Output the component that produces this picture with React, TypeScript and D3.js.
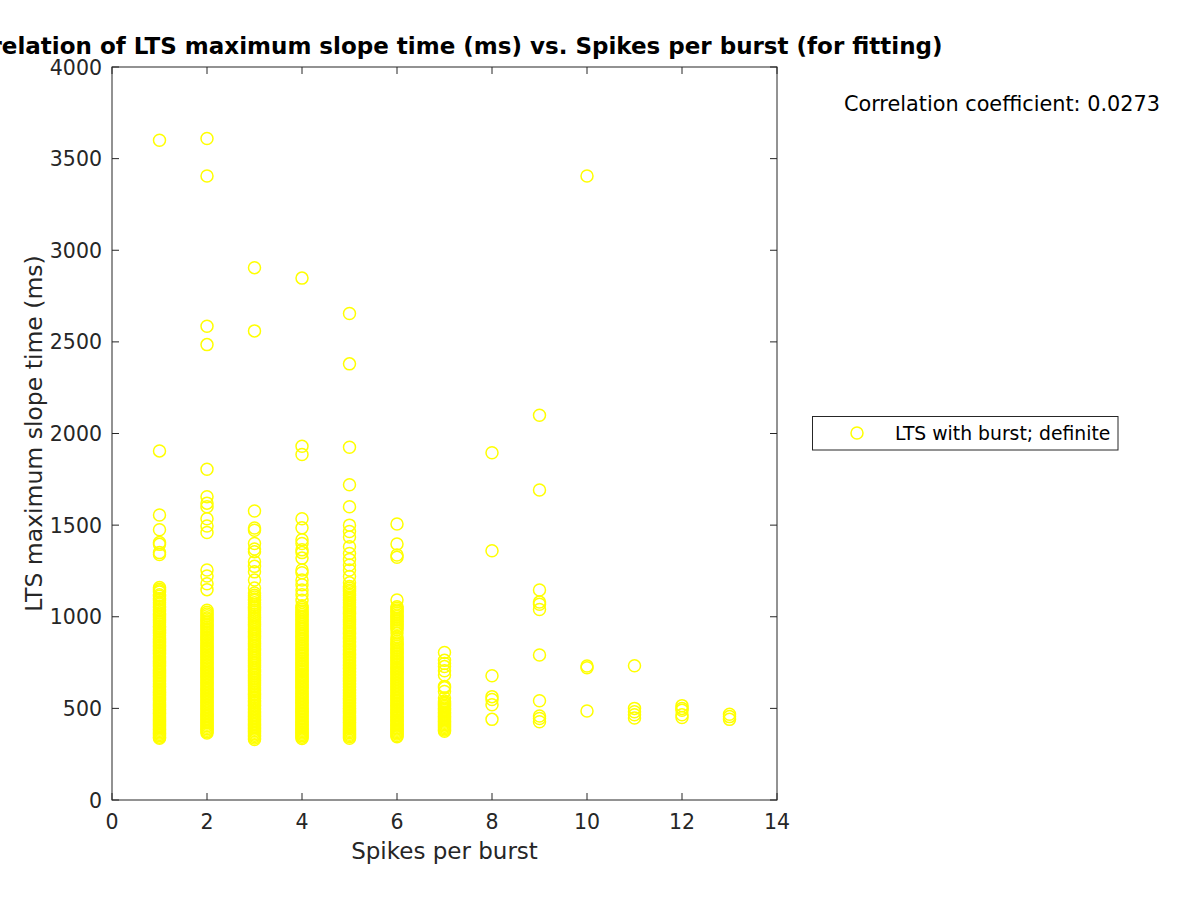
import React from "react";
import * as d3 from "d3";

const xTicks = [0, 2, 4, 6, 8, 10, 12, 14];
const yTicks = [0, 500, 1000, 1500, 2000, 2500, 3000, 3500, 4000];

const spikes1 = [3600, 1905, 1555, 1475, 1405, 1395, 1350, 1340,
  1160, 1150, 1142, 1135, 1120, 1112, 1100, 1090, 1078, 1070, 1058, 1050, 1040, 1032, 1020, 1012, 1003, 995, 985, 978, 968, 960, 950, 942, 933, 925, 915, 908, 898, 890, 880, 872, 863, 855, 845, 838, 828, 820, 812, 803, 795, 786, 778, 770, 760, 752, 745, 735, 728, 720, 711, 703, 695, 686, 678, 670, 662, 655, 646, 638, 630, 622, 615, 606, 598, 590, 583, 575, 566, 558, 550, 543, 535, 527, 520, 512, 505, 497, 490, 482, 475, 468, 460, 453, 445, 438, 430, 423, 416, 408, 401, 394, 387, 380, 372, 365, 358, 350, 343, 337];
const spikes2 = [3610, 3405, 2585, 2485, 1805, 1655, 1620, 1600, 1535, 1495, 1460, 1255, 1222, 1180, 1148,
  1035, 1025, 1015, 1005, 995, 988, 978, 970, 960, 952, 943, 935, 925, 917, 908, 900, 891, 882, 874, 866, 857, 849, 840, 832, 823, 815, 806, 798, 790, 781, 773, 764, 756, 748, 739, 731, 722, 714, 706, 697, 689, 680, 672, 664, 655, 647, 638, 630, 622, 613, 605, 597, 588, 580, 571, 563, 555, 546, 538, 530, 521, 513, 505, 496, 488, 480, 471, 463, 455, 446, 438, 430, 421, 413, 405, 397, 389, 381, 373, 366];
const spikes3 = [2905, 2560, 1577, 1484, 1472, 1400, 1370, 1355, 1300, 1275, 1245, 1200, 1157,
  1130, 1118, 1108, 1097, 1088, 1076, 1066, 1055, 1046, 1035, 1026, 1015, 1006, 996, 986, 977, 967, 958, 948, 939, 929, 920, 910, 901, 892, 882, 873, 864, 854, 845, 836, 826, 817, 808, 798, 789, 780, 771, 761, 752, 743, 734, 724, 715, 706, 697, 688, 679, 670, 661, 652, 643, 634, 625, 616, 607, 598, 589, 580, 572, 563, 554, 545, 537, 528, 519, 511, 502, 494, 485, 477, 468, 460, 451, 443, 435, 427, 418, 410, 402, 394, 386, 378, 370, 362, 354, 346, 338, 330];
const spikes4 = [2848, 1930, 1885, 1535, 1485, 1420, 1400, 1365, 1350, 1320, 1255, 1240, 1200, 1175, 1146, 1120, 1090,
  1060, 1050, 1041, 1031, 1022, 1012, 1003, 994, 984, 975, 966, 956, 947, 938, 929, 919, 910, 901, 892, 883, 874, 865, 856, 847, 838, 829, 820, 811, 802, 793, 784, 775, 767, 758, 749, 740, 732, 723, 714, 706, 697, 688, 680, 671, 663, 654, 646, 637, 629, 620, 612, 604, 595, 587, 579, 570, 562, 554, 546, 538, 530, 522, 513, 505, 497, 489, 481, 473, 466, 458, 450, 442, 434, 426, 419, 411, 403, 396, 388, 380, 373, 365, 358, 350, 343, 336];
const spikes5 = [2655, 2380, 1925, 1720, 1600, 1500, 1465, 1435, 1382, 1345, 1313, 1282, 1255, 1220, 1185,
  1165, 1155, 1145, 1136, 1126, 1116, 1107, 1097, 1088, 1078, 1069, 1059, 1050, 1041, 1031, 1022, 1013, 1004, 994, 985, 976, 967, 958, 949, 940, 931, 922, 913, 904, 895, 886, 877, 868, 859, 851, 842, 833, 824, 816, 807, 798, 790, 781, 772, 764, 755, 747, 738, 730, 721, 713, 704, 696, 688, 679, 671, 663, 654, 646, 638, 630, 622, 614, 605, 597, 589, 581, 573, 565, 557, 549, 542, 534, 526, 518, 510, 502, 495, 487, 479, 472, 464, 456, 449, 441, 434, 426, 419, 411, 404, 396, 389, 381, 374, 367, 359, 352, 345, 337];
const spikes6 = [1506, 1397, 1337, 1325, 1091,
  1055, 1046, 1037, 1028, 1019, 1010, 1001, 992, 983, 974, 965, 956, 947, 938, 929, 911, 890, 878, 866, 857, 848, 839, 830, 821, 812, 803, 795, 786, 777, 768, 760, 751, 742, 734, 725, 717, 708, 700, 691, 683, 674, 666, 658, 649, 641, 633, 625, 617, 609, 600, 592, 584, 576, 568, 560, 553, 545, 537, 529, 521, 514, 506, 498, 491, 483, 476, 468, 461, 453, 446, 438, 431, 424, 416, 409, 402, 395, 388, 381, 374, 367, 360, 352, 345];
const spikes7 = [805, 762, 745, 728, 705, 682, 620, 612, 592, 557,
  540, 532, 525, 517, 510, 502, 495, 488, 480, 473, 466, 459, 452, 445, 438, 431, 424, 417, 410, 403, 396, 389, 382, 375];
const spikes8 = [1895, 1360, 678, 564, 548, 520, 440];
const spikes9 = [2100, 1692, 1146, 1080, 1068, 1040, 791, 542, 458, 445, 427];
const spikes10 = [3405, 731, 722, 486];
const spikes11 = [733, 500, 482, 465, 447];
const spikes12 = [515, 500, 490, 465, 450];
const spikes13 = [468, 455, 440];

const spikeCategories = [1, 2, 3, 4, 5, 6, 7, 8, 9, 10, 11, 12, 13];
const seriesValues = [spikes1, spikes2, spikes3, spikes4, spikes5, spikes6, spikes7, spikes8, spikes9, spikes10, spikes11, spikes12, spikes13];

const points = spikeCategories.flatMap((c, i) => seriesValues[i].map((v) => ({ x: c, y: v })));

export default function App() {
  const left = 112, right = 777, top = 67, bottom = 800;
  const x = d3.scaleLinear().domain([0, 14]).range([left, right]);
  const y = d3.scaleLinear().domain([0, 4000]).range([bottom, top]);
  const axisColor = "#262626";
  const font = "DejaVu Sans, sans-serif";
  const tickLen = 7;
  return (
    <svg width={1200} height={900} style={{ position: "absolute", left: 0, top: 0, background: "#fff" }} fontFamily={font}>
      <rect x={0} y={0} width={1200} height={900} fill="#fff" />
      <rect x={left} y={top} width={right - left} height={bottom - top} fill="#fff" />
      {points.map((p, i) => (
        <circle key={i} cx={x(p.x)} cy={y(p.y)} r={6} fill="none" stroke="#ffff00" strokeWidth={1.5} />
      ))}
      <rect x={left} y={top} width={right - left} height={bottom - top} fill="none" stroke={axisColor} strokeWidth={1} />
      {xTicks.map((t) => (
        <g key={"x" + t}>
          <line x1={x(t)} x2={x(t)} y1={bottom} y2={bottom - tickLen} stroke={axisColor} />
          <line x1={x(t)} x2={x(t)} y1={top} y2={top + tickLen} stroke={axisColor} />
          <text x={x(t)} y={828.5} textAnchor="middle" fontSize={20.5} fill={axisColor}>{t}</text>
        </g>
      ))}
      {yTicks.map((t) => (
        <g key={"y" + t}>
          <line x1={left} x2={left + tickLen} y1={y(t)} y2={y(t)} stroke={axisColor} />
          <line x1={right} x2={right - tickLen} y1={y(t)} y2={y(t)} stroke={axisColor} />
          <text x={102} y={y(t) + 7.5} textAnchor="end" fontSize={20.5} fill={axisColor}>{t}</text>
        </g>
      ))}
      <text x={(left + right) / 2} y={859} textAnchor="middle" fontSize={23} fill={axisColor}>Spikes per burst</text>
      <text transform={`translate(${42},${(top + bottom) / 2}) rotate(-90)`} textAnchor="middle" fontSize={23.5} fill={axisColor}>LTS maximum slope time (ms)</text>
      <text x={(left + right) / 2} y={54} textAnchor="middle" fontSize={23} fontWeight="bold" fill="#000">Correlation of LTS maximum slope time (ms) vs. Spikes per burst (for fitting)</text>
      <text x={1160} y={111} textAnchor="end" fontSize={20.8} fill="#000">Correlation coefficient: 0.0273</text>
      <rect x={812.5} y={416.5} width={305.5} height={33.5} fill="#fff" stroke={axisColor} strokeWidth={1} />
      <circle cx={857} cy={433} r={6} fill="none" stroke="#ffff00" strokeWidth={1.5} />
      <text x={895} y={440} fontSize={18.8} fill="#000">LTS with burst; definite</text>
    </svg>
  );
}
